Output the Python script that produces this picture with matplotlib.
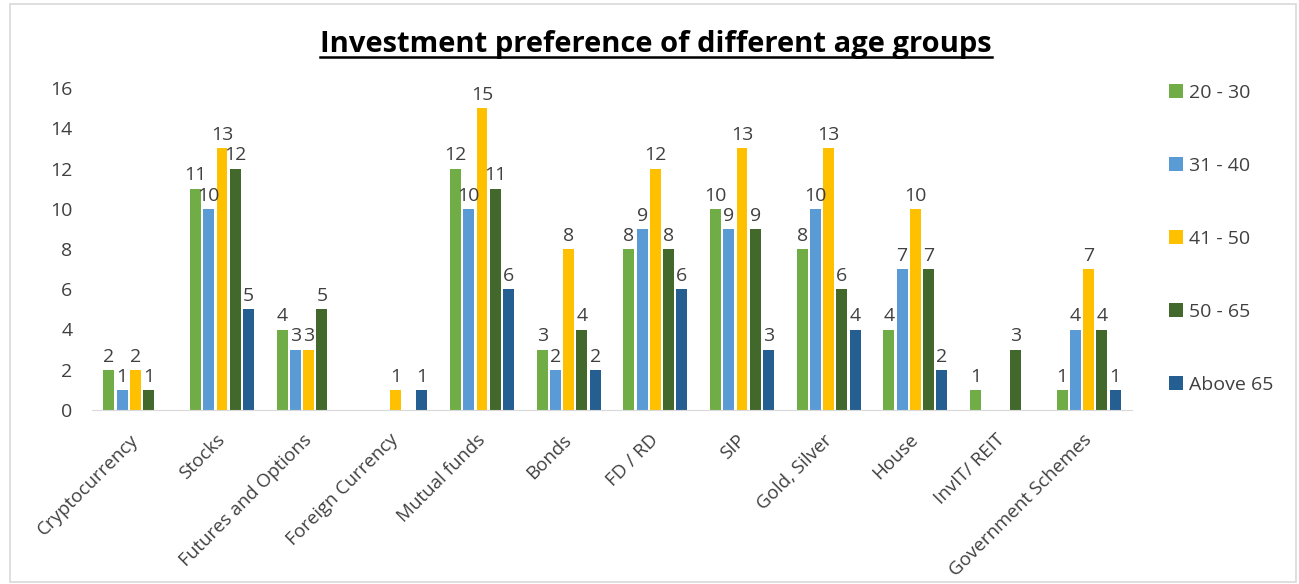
import numpy as np
import matplotlib
matplotlib.use("Agg")
import matplotlib.pyplot as plt
from matplotlib.patches import Rectangle

plt.rcParams['font.family'] = ['Open Sans', 'DejaVu Sans']

categories = ['Cryptocurrency', 'Stocks', 'Futures and Options', 'Foreign Currency',
              'Mutual funds', 'Bonds', 'FD / RD', 'SIP', 'Gold, Silver', 'House',
              'InvIT/ REIT', 'Government Schemes']
age_groups = ['20 - 30', '31 - 40', '41 - 50', '50 - 65', 'Above 65']
age_20_30 = [2, 11, 4, 0, 12, 3, 8, 10, 8, 4, 1, 1]
age_31_40 = [1, 10, 3, 0, 10, 2, 9, 9, 10, 7, 0, 4]
age_41_50 = [2, 13, 3, 1, 15, 8, 12, 13, 13, 10, 0, 7]
age_50_65 = [1, 12, 5, 0, 11, 4, 8, 9, 6, 7, 3, 4]
above_65 = [0, 5, 0, 1, 6, 2, 6, 3, 4, 2, 0, 1]
yticks = [0, 2, 4, 6, 8, 10, 12, 14, 16]

series = [age_20_30, age_31_40, age_41_50, age_50_65, above_65]
colors = ['#70AD47', '#5B9BD5', '#FFC000', '#43682B', '#255E91']
txt = '#404040'

W, H = 1299, 584
fig = plt.figure(figsize=(W / 100, H / 100), dpi=100)
ax = fig.add_axes([92 / W, 1 - 410 / H, (1132 - 92) / W, (410 - 88) / H])

x = np.arange(len(categories))
step = 0.153
width = 0.126
for i, (vals, col, name) in enumerate(zip(series, colors, age_groups)):
    pos = x + (i - 2) * step
    bars = ax.bar(pos, vals, width=width, color=col, label=name)
    labels = [str(v) if v else '' for v in vals]
    ax.bar_label(bars, labels=labels, padding=3, fontsize=14, color=txt)

ax.set_xlim(-0.5, len(categories) - 0.5)
ax.set_ylim(0, 16)
ax.set_yticks(yticks)
ax.tick_params(axis='y', length=0, labelsize=14, labelcolor=txt, pad=14)
ax.set_xticks(x - 0.07)
ax.set_xticklabels(categories, rotation=45, ha='right', rotation_mode='anchor',
                   fontsize=13.5, color=txt)
ax.tick_params(axis='x', length=0, pad=15)
for side in ['top', 'right', 'left']:
    ax.spines[side].set_visible(False)
ax.spines['bottom'].set_color('#D9D9D9')

title = fig.text(656 / W, 1 - 52 / H, 'Investment preference of different age groups',
                 ha='center', va='baseline', fontsize=21, fontweight='bold',
                 color='black')
fig.canvas.draw()
bb = title.get_window_extent()
# underline the title
fig.add_artist(plt.Line2D([bb.x0 / W, bb.x1 / W], [1 - 57 / H, 1 - 57 / H],
                          color='black', lw=1.8))

fig.legend(loc='upper left', bbox_to_anchor=(1151 / W, 1 - 66 / H), frameon=False,
           fontsize=14, labelspacing=2.83, handlelength=0.72, handleheight=0.72,
           handletextpad=0.35, labelcolor=txt)

fig.add_artist(Rectangle((10 / W, 2 / H), 1286 / W, 578 / H,
                         transform=fig.transFigure, fill=False,
                         edgecolor='#D9D9D9', lw=1.2))

fig.savefig('out.png', dpi=100)
